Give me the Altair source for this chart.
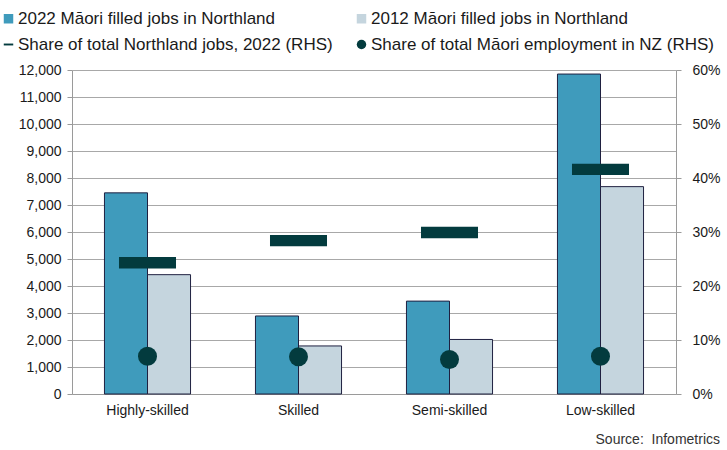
import altair as alt
import pandas as pd

categories = ["Highly-skilled", "Skilled", "Semi-skilled", "Low-skilled"]
jobs_2022 = [7450, 2890, 3440, 11850]
jobs_2012 = [4420, 1780, 2020, 7680]
share_northland_2022 = [0.243, 0.284, 0.299, 0.416]
share_maori_nz = [0.070, 0.069, 0.064, 0.070]

s1 = "2022 Māori filled jobs in Northland"
s2 = "2012 Māori filled jobs in Northland"
s3 = "Share of total Northland jobs, 2022 (RHS)"
s4 = "Share of total Māori employment in NZ (RHS)"
series_names = [s1, s2, s3, s4]

bar_rows = []
for c, a, b in zip(categories, jobs_2022, jobs_2012):
    bar_rows.append({"category": c, "series": s1, "value": a})
    bar_rows.append({"category": c, "series": s2, "value": b})
bar_df = pd.DataFrame(bar_rows)

pt_rows = []
for c, a, b in zip(categories, share_northland_2022, share_maori_nz):
    pt_rows.append({"category": c, "series": s3, "value": a})
    pt_rows.append({"category": c, "series": s4, "value": b})
pt_df = pd.DataFrame(pt_rows)

FONT = "Liberation Sans"
DARK = "#033B3E"
colors = ["#3F9BBC", "#C5D5DE", DARK, DARK]
shapes = ["square", "square", "M-1,-0.2H1V0.2H-1Z", "circle"]

color_scale = alt.Scale(domain=series_names, range=colors)
shape_scale = alt.Scale(domain=series_names, range=shapes)

legend = alt.Legend(
    title=None, orient="none", legendX=-72, legendY=-60, columns=2,
    direction="horizontal", columnPadding=20, rowPadding=8,
    labelFontSize=17, labelFont=FONT, labelLimit=600,
    labelColor="#1a1a1a", symbolSize=90, symbolStrokeColor="#1f2040",
    symbolStrokeWidth=1, labelOffset=1, symbolOpacity=1,
)

x_enc = alt.X(
    "category:N", sort=categories,
    scale=alt.Scale(paddingInner=0.43, paddingOuter=0.215),
    axis=alt.Axis(title=None, labelAngle=0, ticks=False, labelPadding=9,
                  domainColor="#9a9a9a"),
)

bars = alt.Chart(bar_df).mark_bar(stroke="#1f2040", strokeWidth=1).encode(
    x=x_enc,
    xOffset=alt.XOffset("series:N", sort=[s1, s2],
                        scale=alt.Scale(paddingInner=0, paddingOuter=0)),
    y=alt.Y("value:Q", scale=alt.Scale(domain=[0, 12000]),
            axis=alt.Axis(title=None, values=list(range(0, 12001, 1000)),
                          format=",.0f", grid=True, gridColor="#A8A8A8",
                          tickSize=5, labelPadding=6, domainColor="#9a9a9a",
                          tickColor="#9a9a9a")),
    color=alt.Color("series:N", scale=color_scale, legend=legend),
)

points = alt.Chart(pt_df).mark_point(filled=True, opacity=1).encode(
    x=x_enc,
    y=alt.Y("value:Q", scale=alt.Scale(domain=[0, 0.6]),
            axis=alt.Axis(title=None, orient="right", format=".0%",
                          values=[0, 0.1, 0.2, 0.3, 0.4, 0.5, 0.6],
                          grid=False, tickSize=5, labelPadding=11,
                          domainColor="#9a9a9a", tickColor="#9a9a9a")),
    color=alt.Color("series:N", scale=color_scale, legend=legend),
    shape=alt.Shape("series:N", scale=shape_scale, legend=legend),
    size=alt.Size("series:N", scale=alt.Scale(domain=[s3, s4], range=[3250, 361]),
                  legend=None),
)

chart = alt.layer(bars, points).resolve_scale(y="independent").properties(
    width=604, height=324,
    autosize=alt.AutoSizeParams(type="none"),
    padding={"left": 72, "top": 70, "right": 51, "bottom": 56},
    title=alt.TitleParams("Source:\u00a0 Infometrics", orient="bottom", anchor="end",
                          frame="bounds", fontSize=14, fontWeight="normal",
                          color="#333333", font=FONT, offset=16),
).configure_axis(
    labelFont=FONT, labelFontSize=14, labelColor="#1a1a1a",
).configure_view(stroke=None)

chart.save("out.html", embed_options={"renderer": "svg", "actions": False})
